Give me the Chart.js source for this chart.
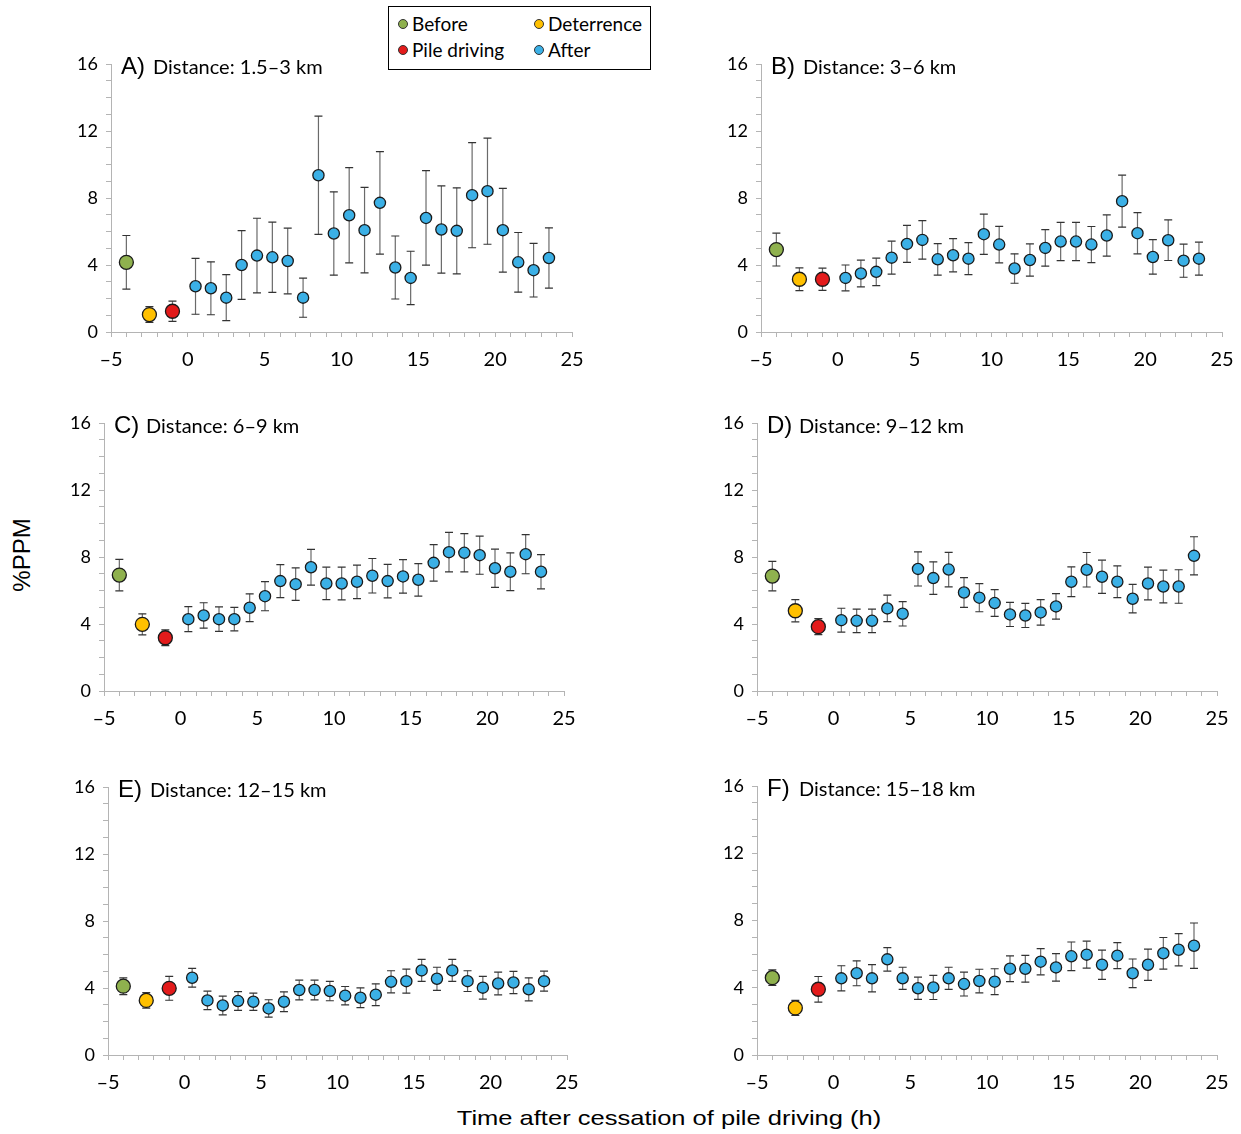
<!DOCTYPE html>
<html>
<head>
<meta charset="utf-8">
<script src="https://cdn.jsdelivr.net/npm/chart.js"></script>
<style>
  body { margin: 0; background: #fff; }
  #page { position: relative; width: 1241px; height: 1134px; overflow: hidden; font-family: Lato, sans-serif; }
  canvas { position: absolute; }
  .lab { position: absolute; white-space: nowrap; color: #000; }
  .letter { font-family: "Liberation Sans", Arial, sans-serif; font-size: 24px; line-height: 24px; }
  .dist { font-family: Lato, sans-serif; font-size: 20px; line-height: 20px; }
  #legend { position: absolute; left: 388px; top: 6px; width: 263px; height: 64px; box-sizing: border-box; border: 1.5px solid #000; }
  .dot { position: absolute; width: 10px; height: 10px; border-radius: 50%; box-sizing: border-box; border: 1px solid #333; }
  .leg { position: absolute; font-size: 19px; line-height: 19px; white-space: nowrap; }
</style>
</head>
<body>
<div id="page">
  <div id="legend"></div>
  <div class="lab" style="left:22px; top:555px; font-family:'Liberation Sans',Arial,sans-serif; font-size:24px; transform:translate(-50%,-50%) rotate(-90deg);">%PPM</div>
  <div class="lab" style="left:669px; top:1118px; font-family:'Liberation Sans',Arial,sans-serif; font-size:21px; transform:translate(-50%,-50%) scaleX(1.215);">Time after cessation of pile driving (h)</div>
</div>
<script>
// time (h) of the three phases and of the hourly "after" bins
const phaseNames = ["Before", "Deterrence", "Pile driving"];
const phaseHours = [-4, -2.5, -1];
const afterHours = [0.5, 1.5, 2.5, 3.5, 4.5, 5.5, 6.5, 7.5, 8.5, 9.5, 10.5, 11.5,
  12.5, 13.5, 14.5, 15.5, 16.5, 17.5, 18.5, 19.5, 20.5, 21.5, 22.5, 23.5];

const panelTitles = ["Distance: 1.5\u20133 km", "Distance: 3\u20136 km", "Distance: 6\u20139 km",
  "Distance: 9\u201312 km", "Distance: 12\u201315 km", "Distance: 15\u201318 km"];
const panelLetters = ["A)", "B)", "C)", "D)", "E)", "F)"];

const xTicks = [-5, 0, 5, 10, 15, 20, 25];
const yTicks = [0, 4, 8, 12, 16];

// %PPM means and error bar half-widths
const phaseA = [4.16, 1.04, 1.24];
const phaseErrA = [1.6, 0.47, 0.6];
const afterA = [2.73, 2.61, 2.05, 4.0, 4.56, 4.46, 4.24, 2.05, 9.36, 5.88, 6.97, 6.08,
  7.71, 3.85, 3.23, 6.81, 6.12, 6.04, 8.17, 8.41, 6.08, 4.16, 3.69, 4.42];
const afterErrA = [1.67, 1.58, 1.37, 2.05, 2.23, 2.1, 1.96, 1.17, 3.53, 2.49, 2.84, 2.55,
  3.06, 1.88, 1.59, 2.82, 2.6, 2.57, 3.14, 3.17, 2.5, 1.78, 1.6, 1.8];

const phaseB = [4.92, 3.15, 3.15];
const phaseErrB = [0.98, 0.68, 0.66];
const afterB = [3.23, 3.49, 3.59, 4.44, 5.26, 5.5, 4.34, 4.58, 4.38, 5.84, 5.22, 3.79,
  4.3, 5.02, 5.4, 5.4, 5.22, 5.76, 7.81, 5.9, 4.48, 5.48, 4.26, 4.38];
const afterErrB = [0.77, 0.8, 0.82, 0.98, 1.1, 1.15, 0.94, 0.99, 0.96, 1.2, 1.09, 0.88,
  0.96, 1.09, 1.14, 1.14, 1.08, 1.23, 1.55, 1.23, 1.03, 1.21, 0.99, 0.98];

const phaseC = [6.92, 3.98, 3.18];
const phaseErrC = [0.94, 0.63, 0.47];
const afterC = [4.29, 4.51, 4.29, 4.29, 4.97, 5.66, 6.56, 6.38, 7.39, 6.42, 6.42, 6.52,
  6.88, 6.56, 6.84, 6.64, 7.65, 8.29, 8.25, 8.11, 7.33, 7.12, 8.17, 7.12];
const afterErrC = [0.75, 0.76, 0.73, 0.7, 0.83, 0.87, 0.98, 0.97, 1.07, 0.97, 0.98, 1.0,
  1.03, 1.0, 1.0, 0.97, 1.09, 1.18, 1.14, 1.14, 1.14, 1.13, 1.17, 1.02];

const phaseD = [6.86, 4.79, 3.84];
const phaseErrD = [0.88, 0.66, 0.48];
const afterD = [4.23, 4.19, 4.19, 4.93, 4.61, 7.29, 6.74, 7.25, 5.88, 5.57, 5.25, 4.57,
  4.51, 4.69, 5.05, 6.52, 7.24, 6.82, 6.52, 5.51, 6.42, 6.24, 6.24, 8.07];
const afterErrD = [0.71, 0.7, 0.7, 0.79, 0.73, 1.02, 0.97, 1.03, 0.89, 0.84, 0.8, 0.72,
  0.72, 0.76, 0.76, 0.89, 1.03, 0.99, 0.95, 0.85, 0.98, 0.98, 1.0, 1.14];

const phaseE = [4.11, 3.26, 3.98];
const phaseErrE = [0.5, 0.46, 0.71];
const afterE = [4.61, 3.26, 2.96, 3.22, 3.18, 2.78, 3.18, 3.88, 3.88, 3.82, 3.54, 3.42,
  3.6, 4.37, 4.41, 5.05, 4.55, 5.05, 4.41, 4.02, 4.27, 4.33, 3.92, 4.41];
const afterErrE = [0.56, 0.55, 0.56, 0.56, 0.52, 0.52, 0.59, 0.59, 0.59, 0.58, 0.55, 0.59,
  0.65, 0.66, 0.72, 0.66, 0.69, 0.66, 0.62, 0.68, 0.68, 0.66, 0.69, 0.6];

const phaseF = [4.6, 2.8, 3.91];
const phaseErrF = [0.46, 0.45, 0.76];
const afterF = [4.56, 4.86, 4.56, 5.69, 4.56, 3.97, 4.02, 4.56, 4.22, 4.4, 4.36, 5.13,
  5.13, 5.55, 5.21, 5.87, 5.97, 5.37, 5.91, 4.86, 5.37, 6.05, 6.26, 6.5];
const afterErrF = [0.75, 0.74, 0.81, 0.7, 0.66, 0.66, 0.72, 0.66, 0.71, 0.7, 0.77, 0.76,
  0.8, 0.78, 0.82, 0.85, 0.8, 0.87, 0.77, 0.85, 0.93, 0.94, 0.96, 1.35];

const phaseColors = ["#8fb14e", "#ffc000", "#e31b1b"];
const afterColor = "#3bb0e6";
const axisColor = "#b4b4b4";

// plot area of each panel on the page: y axis x, top (16), bottom (0), right end (25)
const boxes = [
  { ax: 111, top: 64, bottom: 332, right: 572 },
  { ax: 761, top: 64, bottom: 332, right: 1222 },
  { ax: 104, top: 423, bottom: 691, right: 564 },
  { ax: 757, top: 423, bottom: 691, right: 1217 },
  { ax: 108, top: 787, bottom: 1055, right: 567 },
  { ax: 757, top: 786, bottom: 1055, right: 1217 }
];
const series = [
  [phaseA, phaseErrA, afterA, afterErrA],
  [phaseB, phaseErrB, afterB, afterErrB],
  [phaseC, phaseErrC, afterC, afterErrC],
  [phaseD, phaseErrD, afterD, afterErrD],
  [phaseE, phaseErrE, afterE, afterErrE],
  [phaseF, phaseErrF, afterF, afterErrF]
];

const YW = 46, XH = 42, PT = 16, PR = 16;

Chart.defaults.font.family = "Lato, sans-serif";
Chart.defaults.color = "#000";

const errorBars = {
  id: "errorBars",
  beforeDatasetsDraw(chart) {
    const ctx = chart.ctx, xs = chart.scales.x, ys = chart.scales.y;
    ctx.save();
    ctx.lineWidth = 1.2;
    chart.data.datasets.forEach(ds => {
      ds.data.forEach((d, j) => {
        const x = xs.getPixelForValue(d.x);
        const yTop = ys.getPixelForValue(d.y + ds.err[j]);
        const yBot = ys.getPixelForValue(d.y - ds.err[j]);
        ctx.strokeStyle = "#6a6a6a";
        ctx.beginPath();
        ctx.moveTo(x, yTop);
        ctx.lineTo(x, yBot);
        ctx.stroke();
        ctx.strokeStyle = "#333";
        ctx.beginPath();
        ctx.moveTo(x - 4, yTop); ctx.lineTo(x + 4, yTop);
        ctx.moveTo(x - 4, yBot); ctx.lineTo(x + 4, yBot);
        ctx.stroke();
      });
    });
    ctx.restore();
  }
};

function dash(v) {
  return v < 0 ? "\u2013" + Math.abs(v) : String(v);
}

const page = document.getElementById("page");

boxes.forEach((b, i) => {
  const [phase, phaseErr, after, afterErr] = series[i];
  const left = b.ax - YW;
  const top = b.top - PT;
  const w = b.right + PR - left;
  const h = b.bottom + XH - top;

  const canvas = document.createElement("canvas");
  canvas.width = w; canvas.height = h;
  canvas.style.left = left + "px"; canvas.style.top = top + "px";
  canvas.style.width = w + "px"; canvas.style.height = h + "px";
  page.appendChild(canvas);

  const datasets = phaseNames.map((name, k) => ({
    label: name,
    data: [{ x: phaseHours[k], y: phase[k] }],
    err: [phaseErr[k]],
    backgroundColor: phaseColors[k],
    borderColor: "#1a1a1a",
    borderWidth: 1.3,
    pointRadius: 7
  }));
  datasets.push({
    label: "After",
    data: afterHours.map((t, k) => ({ x: t, y: after[k] })),
    err: afterErr,
    backgroundColor: afterColor,
    borderColor: "#1a1a1a",
    borderWidth: 1.3,
    pointRadius: 5.6
  });

  new Chart(canvas, {
    type: "scatter",
    data: { datasets },
    options: {
      responsive: false,
      animation: false,
      events: [],
      layout: { padding: { left: 0, top: PT, right: PR, bottom: 0 } },
      plugins: { legend: { display: false }, tooltip: { enabled: false } },
      scales: {
        x: {
          type: "linear", min: -5, max: 25,
          afterFit: s => { s.height = XH; s.paddingLeft = 0; s.paddingRight = 0; },
          afterBuildTicks: s => { s.ticks = Array.from({ length: 31 }, (_, k) => ({ value: k - 5 })); },
          ticks: {
            autoSkip: false, maxRotation: 0, padding: 11,
            font: { size: 20 },
            callback: v => xTicks.includes(v) ? dash(v) : ""
          },
          grid: { drawOnChartArea: false, tickLength: 5, color: axisColor },
          border: { color: axisColor, width: 1 }
        },
        y: {
          min: 0, max: 16,
          afterFit: s => { s.width = YW; s.paddingTop = 0; s.paddingBottom = 0; },
          afterBuildTicks: s => { s.ticks = Array.from({ length: 17 }, (_, k) => ({ value: k })); },
          ticks: {
            autoSkip: false, padding: 8,
            font: { size: 18 },
            callback: v => yTicks.includes(v) ? String(v) : ""
          },
          grid: { drawOnChartArea: false, tickLength: 5, color: axisColor },
          border: { color: axisColor, width: 1 }
        }
      }
    },
    plugins: [errorBars]
  });

  const letter = document.createElement("div");
  letter.className = "lab letter";
  letter.textContent = panelLetters[i];
  letter.style.left = (b.ax + 10) + "px";
  letter.style.top = (b.top - 10) + "px";
  page.appendChild(letter);

  const dist = document.createElement("div");
  dist.className = "lab dist";
  dist.textContent = panelTitles[i];
  dist.style.left = (b.ax + 42) + "px";
  dist.style.top = (b.top - 8) + "px";
  page.appendChild(dist);
});

// legend
const legend = document.getElementById("legend");
const legendItems = [
  { name: "Before", color: phaseColors[0], x: 14, y: 17 },
  { name: "Deterrence", color: phaseColors[1], x: 150, y: 17 },
  { name: "Pile driving", color: phaseColors[2], x: 14, y: 43 },
  { name: "After", color: afterColor, x: 150, y: 43 }
];
legendItems.forEach(it => {
  const d = document.createElement("div");
  d.className = "dot";
  d.style.background = it.color;
  d.style.left = (it.x - 5) + "px";
  d.style.top = (it.y - 5) + "px";
  legend.appendChild(d);
  const t = document.createElement("div");
  t.className = "leg";
  t.textContent = it.name;
  t.style.left = (it.x + 9) + "px";
  t.style.top = (it.y - 10) + "px";
  legend.appendChild(t);
});
</script>
</body>
</html>
